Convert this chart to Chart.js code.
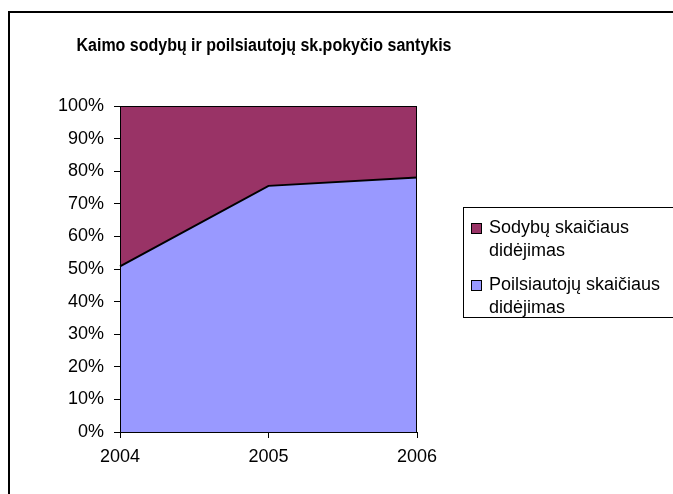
<!DOCTYPE html>
<html>
<head>
<meta charset="utf-8">
<script src="https://cdn.jsdelivr.net/npm/chart.js@4/dist/chart.umd.min.js"></script>
<style>
  body { margin: 0; background: #fff; }
  #wrap { position: relative; width: 673px; height: 494px; }
  #legend {
    position: absolute; left: 463px; top: 207px; width: 212px; height: 111px;
    border: 1px solid #000; box-sizing: border-box; background: #fff;
    font-family: "Liberation Sans", Arial, sans-serif; font-size: 18px; color: #000;
  }
  .item { position: absolute; left: 25px; line-height: 23px; }
  .sw { position: absolute; left: 7px; width: 9px; height: 9px; border: 1px solid #000; }
</style>
</head>
<body>
<div id="wrap">
  <canvas id="myChart" width="673" height="494"></canvas>
  <div id="legend"></div>
</div>
<script>
var years = ["2004", "2005", "2006"];
var poilsiautojai = [50.8, 75.5, 78.1];
var sodybos = [49.2, 24.5, 21.9];
var seriesNames = ["Sodybų skaičiaus\ndidėjimas", "Poilsiautojų skaičiaus\ndidėjimas"];
var chartTitle = "Kaimo sodybų ir poilsiautojų sk.pokyčio santykis";

var FONT = "'Liberation Sans', Arial, sans-serif";

// legend built by hand since labels wrap onto two lines
var legendHtml = "";
legendHtml += "<div class='sw' style='top:15px;background:#993366'></div>";
legendHtml += "<div class='item' style='top:8px'>" + seriesNames[0].replace("\n", "<br>") + "</div>";
legendHtml += "<div class='sw' style='top:72px;background:#9999FF'></div>";
legendHtml += "<div class='item' style='top:65px'>" + seriesNames[1].replace("\n", "<br>") + "</div>";
document.getElementById("legend").innerHTML = legendHtml;

const frame = {
  id: "frame",
  afterDraw(chart) {
    const ctx = chart.ctx;
    const a = chart.chartArea;
    ctx.save();
    // outer border
    ctx.strokeStyle = "#000";
    ctx.lineWidth = 2;
    ctx.strokeRect(9, 12, 700, 520);
    // plot border
    ctx.lineWidth = 1;
    ctx.strokeRect(a.left + 0.5, a.top + 0.5, a.right - a.left - 1, a.bottom - a.top);
    // title, a bit condensed like the original
    ctx.fillStyle = "#000";
    ctx.font = "bold 18px " + FONT;
    ctx.textAlign = "center";
    ctx.textBaseline = "middle";
    var w = ctx.measureText(chartTitle).width;
    var sx = 375 / w;
    ctx.translate(264, 46);
    ctx.scale(sx, 1);
    ctx.fillText(chartTitle, 0, 0);
    ctx.restore();
  },
};

var ctx = document.getElementById("myChart").getContext("2d");
let chart = new Chart(ctx, {
  type: "line",
  data: {
    labels: years,
    datasets: [
      {
        label: seriesNames[1],
        data: poilsiautojai,
        backgroundColor: "#9999FF",
        borderColor: "#000",
        borderWidth: 2,
        pointRadius: 0,
        fill: "origin",
        tension: 0,
      },
      {
        label: seriesNames[0],
        data: sodybos,
        backgroundColor: "#993366",
        borderColor: "rgba(0,0,0,0)",
        borderWidth: 0,
        pointRadius: 0,
        fill: "-1",
        tension: 0,
      },
    ],
  },
  options: {
    responsive: false,
    animation: false,
    layout: { padding: { left: 0, right: 256, top: 106, bottom: 32 } },
    plugins: { legend: { display: false }, tooltip: { enabled: false } },
    scales: {
      x: {
        offset: false,
        grid: { drawOnChartArea: false, tickLength: 6, color: "#000" },
        border: { color: "#000", width: 1 },
        ticks: { color: "#000", font: { family: FONT, size: 18 }, padding: 8, maxRotation: 0 },
        afterFit: function (scale) { scale.height = 30; },
      },
      y: {
        stacked: true,
        min: 0,
        max: 100,
        grid: { drawOnChartArea: false, tickLength: 6, color: "#000" },
        border: { color: "#000", width: 1 },
        ticks: {
          stepSize: 10,
          color: "#000",
          font: { family: FONT, size: 18 },
          padding: 10,
          callback: function (v) { return v + "%"; },
        },
        afterFit: function (scale) { scale.width = 120; },
      },
    },
  },
  plugins: [frame],
});
</script>
</body>
</html>
